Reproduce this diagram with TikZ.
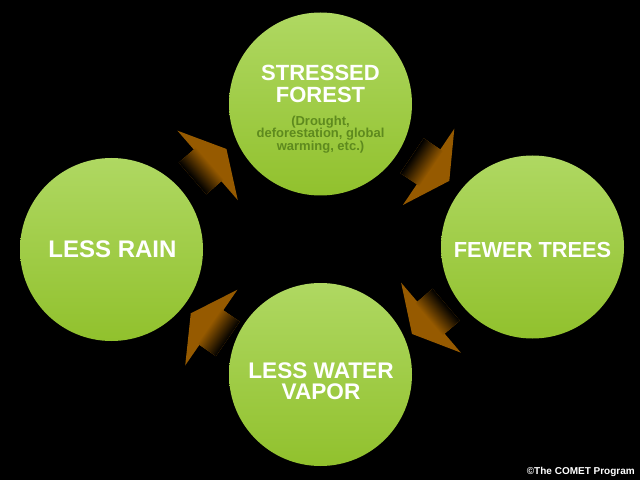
\documentclass[tikz,border=0pt]{standalone}
\usepackage{fontspec}
\setmainfont{Liberation Sans}
\usepackage{xcolor}
\definecolor{leaf top}{HTML}{AFD862}
\definecolor{leaf mid}{HTML}{A0CE45}
\definecolor{leaf low}{HTML}{91C12D}
\definecolor{leaf text}{HTML}{5E8A1E}
\definecolor{flow}{HTML}{965A00}
\tikzset{main node/.style={circle,top color=leaf top,middle color=leaf mid,bottom color=leaf low,minimum size=183pt,inner sep=0pt},
    main text/.style={inner sep=0pt,align=center,text=white,font=\bfseries\fontsize{22}{21.5}\selectfont},
    side text/.style={inner sep=0pt,align=center,text=leaf text,font=\bfseries\fontsize{13}{12.7}\selectfont},}
\newcommand{\flowarrow}{
    \fill[flow] (0,-21) -- (20,-21) -- (20,-46) -- (45,0) -- (20,46) -- (20,21) -- (0,21) -- cycle;
    \shade[left color=black,right color=flow] (0,-21) rectangle (23,21);
}

\begin{document}
\begin{tikzpicture}[x=1pt,y=1pt]
    \fill[black] (0,0) rectangle (640,480);
    \useasboundingbox (0,0) rectangle (640,480);

    \node[main node] (forest) at (320.5,376) {};
    \node[main node] (trees) at (532.5,233) {};
    \node[main node] (vapor) at (320.5,105.5) {};
    \node[main node] (rain) at (111.5,230.5) {};

    \node[main text] (forest title) at ([yshift=20pt]forest) {STRESSED\\FOREST};
    \node[side text] (forest cause) at ([yshift=-30.5pt]forest) {(Drought,\\deforestation, global\\warming, etc.)};
    \node[main text,font=\bfseries\fontsize{21.8}{21.5}\selectfont] (trees title) at ([yshift=-3pt]trees) {FEWER TREES};
    \node[main text,font=\bfseries\fontsize{22.6}{21}\selectfont] (vapor title) at ([xshift=.5pt,yshift=-7pt]vapor) {LESS WATER\\VAPOR};
    \node[main text,font=\bfseries\fontsize{24}{24}\selectfont] (rain title) at ([xshift=1pt]rain) {LESS RAIN};

    \begin{scope}[transform canvas={shift={(192.5,301.5)},rotate=41}]
    \flowarrow
    \end{scope}

    \begin{scope}[transform canvas={shift={(412,324.3)},rotate=-34}]
    \flowarrow
    \end{scope}

    \begin{scope}[transform canvas={shift={(446.2,175.3)},rotate=220.5}]
    \flowarrow
    \end{scope}

    \begin{scope}[transform canvas={shift={(227.8,141.1)},rotate=145.4}]
    \flowarrow
    \end{scope}

    \node[anchor=east,inner sep=0pt,text=white,font=\bfseries\fontsize{10}{10}\selectfont] (credit) at (635,8) {©The COMET Program};
\end{tikzpicture}
\end{document}
